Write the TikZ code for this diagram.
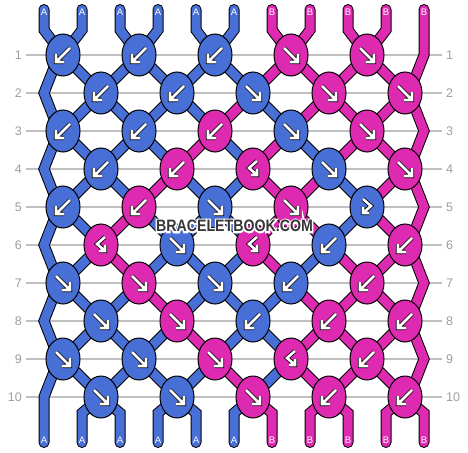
\documentclass[tikz,border=0pt]{standalone}
\usepackage{fontspec}
\setmainfont{Liberation Sans}
\usetikzlibrary{shapes.geometric}
\definecolor{kA}{RGB}{72,111,214}
\definecolor{kB}{RGB}{222,42,176}
\definecolor{gridc}{RGB}{192,192,192}
\definecolor{labc}{RGB}{158,158,158}
\definecolor{wmc}{RGB}{55,55,55}

\newcommand\halotext[1]{\rlap{\special{pdf:literal direct 2 Tr 1 1 1 RG 3.2 w}#1\special{pdf:literal direct 0 Tr}}#1}

% one thread: #1 colour, #2 positions p0..p10
\newcommand\thread[2]{%
  \gdef\tpath{}%
  \foreach \ps [count=\rw] in {#2} {%
    \ifnum\rw=1 \xdef\tpath{(t-\ps) -- (tt-\ps)}\fi
    \ifnum\rw<11
      \ifodd\rw \def\pp{11}\else \def\pp{1}\fi
      \ifnum\ps=\pp\relax
        \xdef\tpath{\tpath -- (pu-\rw) -- (n-\rw-\ps) -- (pd-\rw)}%
      \else
        \xdef\tpath{\tpath -- (n-\rw-\ps)}%
      \fi
    \else
      \xdef\tpath{\tpath -- (bb-\ps) -- (b-\ps)}%
    \fi
  }%
  \edef\tmp{\noexpand\draw[strand=#1] \tpath;}\tmp
}

% one row of knots: #1 row, #2 list colour/glyph
\newcommand\knotrow[2]{%
  \pgfmathsetmacro\yy{55+38*(#1-1)}%
  \ifodd#1 \def\xo{63}\else\def\xo{101}\fi
  \foreach \c/\g [count=\k] in {#2} {%
    \pgfmathsetmacro\xx{\xo+76*(\k-1)}%
    \node[knot=k\c] (k-#1-\k) at (\xx,\yy) {};
    \edef\tmp{\noexpand\pic at (k-#1-\k) {g\g};}\tmp
  }%
}

\begin{document}
\begin{tikzpicture}[x=1pt,y=-1pt,
  strand/.style={draw=black, line width=1pt, double=#1, double distance=9pt, line cap=round, line join=miter},
  knot/.style={ellipse, draw=black, line width=1pt, fill=#1, minimum width=34pt, minimum height=42pt, inner sep=0pt},
  glyph/.style={draw=black, line width=0.8pt, double=white, double distance=2.6pt, line join=miter},
  gridline/.style={draw=gridc, line width=1.4pt},
  rlab/.style={text=labc, font=\fontsize{12.5}{14}\selectfont, inner sep=0pt},
  slab/.style={text=white, font=\fontsize{9.5}{11}\selectfont, inner sep=0pt},
  gF/.pic={\draw[glyph] (-7,-7) -- (7,7) (7,-1) -- (7,7) -- (-1,7);},
  gB/.pic={\draw[glyph] (7,-7) -- (-7,7) (-7,-1) -- (-7,7) -- (1,7);},
  gX/.pic={\draw[glyph] (-4,-8) -- (4,-1) -- (-4,6) (-4,0) -- (-4,6) -- (2,6);},
  gY/.pic={\draw[glyph] (4,-8) -- (-4,-1) -- (4,6) (4,0) -- (4,6) -- (-2,6);}
]
\useasboundingbox (0,0) rectangle (468,452);
\fill[white] (0,0) rectangle (468,452);

% grid lines and row labels
\foreach \rw in {1,...,10} {
  \pgfmathsetmacro\yy{55+38*(\rw-1)}
  \coordinate (gl-\rw) at (26,\yy);
  \coordinate (gr-\rw) at (442,\yy);
  \draw[gridline] (gl-\rw) -- (gr-\rw);
  \node[rlab, anchor=east] (rl-\rw) at (22,\yy) {\rw};
  \node[rlab, anchor=west] (rr-\rw) at (446,\yy) {\rw};
}

% knot / pass coordinates
\foreach \rw in {1,...,10} {
  \pgfmathsetmacro\yy{55+38*(\rw-1)}
  \ifodd\rw
    \foreach \k in {0,...,4} {
      \pgfmathsetmacro\xx{63+76*\k}
      \pgfmathtruncatemacro\pa{2*\k+1}
      \pgfmathtruncatemacro\pb{2*\k+2}
      \coordinate (n-\rw-\pa) at (\xx,\yy);
      \coordinate (n-\rw-\pb) at (\xx,\yy);
    }
    \coordinate (n-\rw-11) at (424,\yy);
    \coordinate (pu-\rw) at (415,\yy-23);
    \coordinate (pd-\rw) at (415,\yy+23);
  \else
    \foreach \k in {0,...,4} {
      \pgfmathsetmacro\xx{101+76*\k}
      \pgfmathtruncatemacro\pa{2*\k+2}
      \pgfmathtruncatemacro\pb{2*\k+3}
      \coordinate (n-\rw-\pa) at (\xx,\yy);
      \coordinate (n-\rw-\pb) at (\xx,\yy);
    }
    \coordinate (n-\rw-1) at (44,\yy);
    \coordinate (pu-\rw) at (53,\yy-23);
    \coordinate (pd-\rw) at (53,\yy+23);
  \fi
}
\coordinate (pu-1) at (424,40);
\coordinate (pd-10) at (44,405);

\foreach \p in {1,...,11} {
  \pgfmathsetmacro\xx{44+38*(\p-1)}
  \coordinate (t-\p) at (\xx,9.5);
  \coordinate (tt-\p) at (\xx,30);
  \coordinate (bb-\p) at (\xx,413);
  \coordinate (b-\p) at (\xx,442.5);
}

% threads
\thread{kA}{1,2,3,4,5,6,6,5,4,3,2}
\thread{kA}{2,1,1,2,3,4,5,6,7,7,6}
\thread{kA}{3,4,5,6,6,5,4,3,2,1,1}
\thread{kA}{4,3,2,1,1,2,2,1,1,2,3}
\thread{kA}{5,6,7,8,9,9,8,7,6,5,4}
\thread{kA}{6,5,4,3,2,1,1,2,3,4,5}
\thread{kB}{7,8,9,10,11,11,10,9,8,8,9}
\thread{kB}{8,7,6,5,4,3,3,4,5,6,7}
\thread{kB}{9,10,11,11,10,10,11,11,10,9,8}
\thread{kB}{10,9,8,7,7,8,9,10,11,11,10}
\thread{kB}{11,11,10,9,8,7,7,8,9,10,11}

% strand end labels
\foreach \p in {1,...,11} {
  \pgfmathsetmacro\xx{44+38*(\p-1)}
  \ifnum\p<7 \def\lt{A}\else\def\lt{B}\fi
  \node[slab] (tl-\p) at (\xx,12.5) {\lt};
  \node[slab] (bl-\p) at (\xx,440) {\lt};
}

% knots
\knotrow{1}{A/B,A/B,A/B,B/F,B/F}
\knotrow{2}{A/B,A/B,A/F,B/F,B/F}
\knotrow{3}{A/B,A/B,B/B,A/F,B/F}
\knotrow{4}{A/B,B/B,B/Y,A/F,B/F}
\knotrow{5}{A/B,B/B,A/F,B/F,A/X}
\knotrow{6}{B/Y,A/F,B/Y,A/B,B/B}
\knotrow{7}{A/F,B/F,A/F,A/B,B/B}
\knotrow{8}{A/F,B/F,A/B,B/B,B/B}
\knotrow{9}{A/F,A/F,B/F,B/Y,B/B}
\knotrow{10}{A/F,A/F,B/F,B/B,B/B}

% watermark
\node[text=wmc, font=\bfseries\fontsize{16.5}{18}\selectfont, inner sep=0pt] (wmark) at (234.5,226)
  {\scalebox{0.86}[1]{\halotext{BRACELETBOOK.COM}}};
\end{tikzpicture}
\end{document}
